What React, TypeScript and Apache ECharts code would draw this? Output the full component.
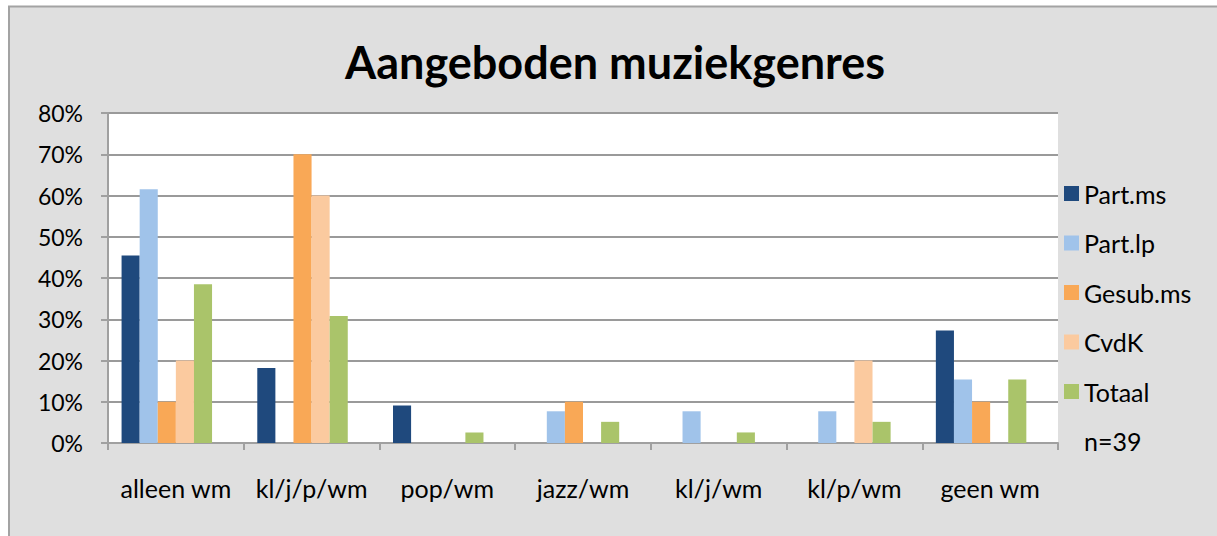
import React, { useEffect, useRef } from "react";
import * as echarts from "echarts";

const titleText = "Aangeboden muziekgenres";
const categories = ["alleen wm", "kl/j/p/wm", "pop/wm", "jazz/wm", "kl/j/wm", "kl/p/wm", "geen wm"];
const seriesNames = ["Part.ms", "Part.lp", "Gesub.ms", "CvdK", "Totaal"];
const partMs = [45.45, 18.18, 9.09, 0, 0, 0, 27.27];
const partLp = [61.54, 0, 0, 7.69, 7.69, 7.69, 15.38];
const gesubMs = [10, 70, 0, 10, 0, 0, 10];
const cvdk = [20, 60, 0, 0, 0, 20, 0];
const totaal = [38.46, 30.77, 2.56, 5.13, 2.56, 5.13, 15.38];
const nLabel = "n=39";
const seriesColors = ["#1F497D", "#A0C3EA", "#F9A856", "#FBCA9F", "#AAC46A"];
const yMin = 0;
const yMax = 80;
const yInterval = 10;

const FONT = "Lato, 'Open Sans', sans-serif";

export default function App() {
  const ref = useRef<HTMLDivElement>(null);
  useEffect(() => {
    if (!ref.current) return;
    const chart = echarts.init(ref.current, undefined, { renderer: "svg" });
    const values = [partMs, partLp, gesubMs, cvdk, totaal];
    const series: any[] = seriesNames.map((name, i) => ({
      name,
      type: "bar",
      data: values[i],
      barGap: "0%",
      barCategoryGap: "20%",
      itemStyle: { color: seriesColors[i] },
    }));
    series.push({
      name: nLabel,
      type: "bar",
      data: categories.map(() => null),
      barGap: "0%",
      barCategoryGap: "20%",
      itemStyle: { color: "rgba(0,0,0,0)" },
    });
    chart.setOption({
      animation: false,
      backgroundColor: "#ffffff",
      graphic: [
        {
          type: "rect",
          z: -10,
          shape: { x: 9, y: 6.5, width: 1400, height: 700 },
          style: { fill: "#dfdfdf", stroke: "#a3a3a3", lineWidth: 2 },
        },
        {
          type: "text",
          z: 100,
          x: 615,
          y: 62,
          style: {
            text: titleText,
            font: "bold 45px " + FONT,
            fill: "#000",
            textAlign: "center",
            textVerticalAlign: "middle",
          },
        },
      ],
      grid: {
        left: 108,
        right: 159,
        top: 113,
        bottom: 93,
        show: true,
        backgroundColor: "#ffffff",
        borderWidth: 0,
      },
      legend: {
        orient: "vertical",
        left: 1064,
        top: 181,
        padding: 0,
        itemWidth: 15,
        itemHeight: 15,
        itemGap: 24.5,
        icon: "rect",
        textStyle: { fontFamily: FONT, fontSize: 25, color: "#000", lineHeight: 24 },
        data: [...seriesNames.map((n) => ({ name: n })), { name: nLabel, icon: "none" }],
      },
      xAxis: {
        type: "category",
        data: categories,
        axisLine: { show: true, lineStyle: { color: "#a0a0a0", width: 2 } },
        axisTick: { show: true, length: 7, lineStyle: { color: "#a0a0a0", width: 2 } },
        axisLabel: { fontFamily: FONT, fontSize: 25, color: "#000", margin: 32, interval: 0 },
      },
      yAxis: {
        type: "value",
        min: yMin,
        max: yMax,
        interval: yInterval,
        axisLine: { show: true, lineStyle: { color: "#a0a0a0", width: 2 } },
        axisTick: { show: true, length: 7, lineStyle: { color: "#a0a0a0", width: 2 } },
        axisLabel: { fontFamily: FONT, fontSize: 23, color: "#000", margin: 25, formatter: "{value}%" },
        splitLine: { show: true, lineStyle: { color: "#9a9a9a", width: 2 } },
      },
      series,
    });
    return () => chart.dispose();
  }, []);
  return (
    <div
      ref={ref}
      style={{ position: "absolute", left: 0, top: 0, width: 1217, height: 536 }}
    />
  );
}
